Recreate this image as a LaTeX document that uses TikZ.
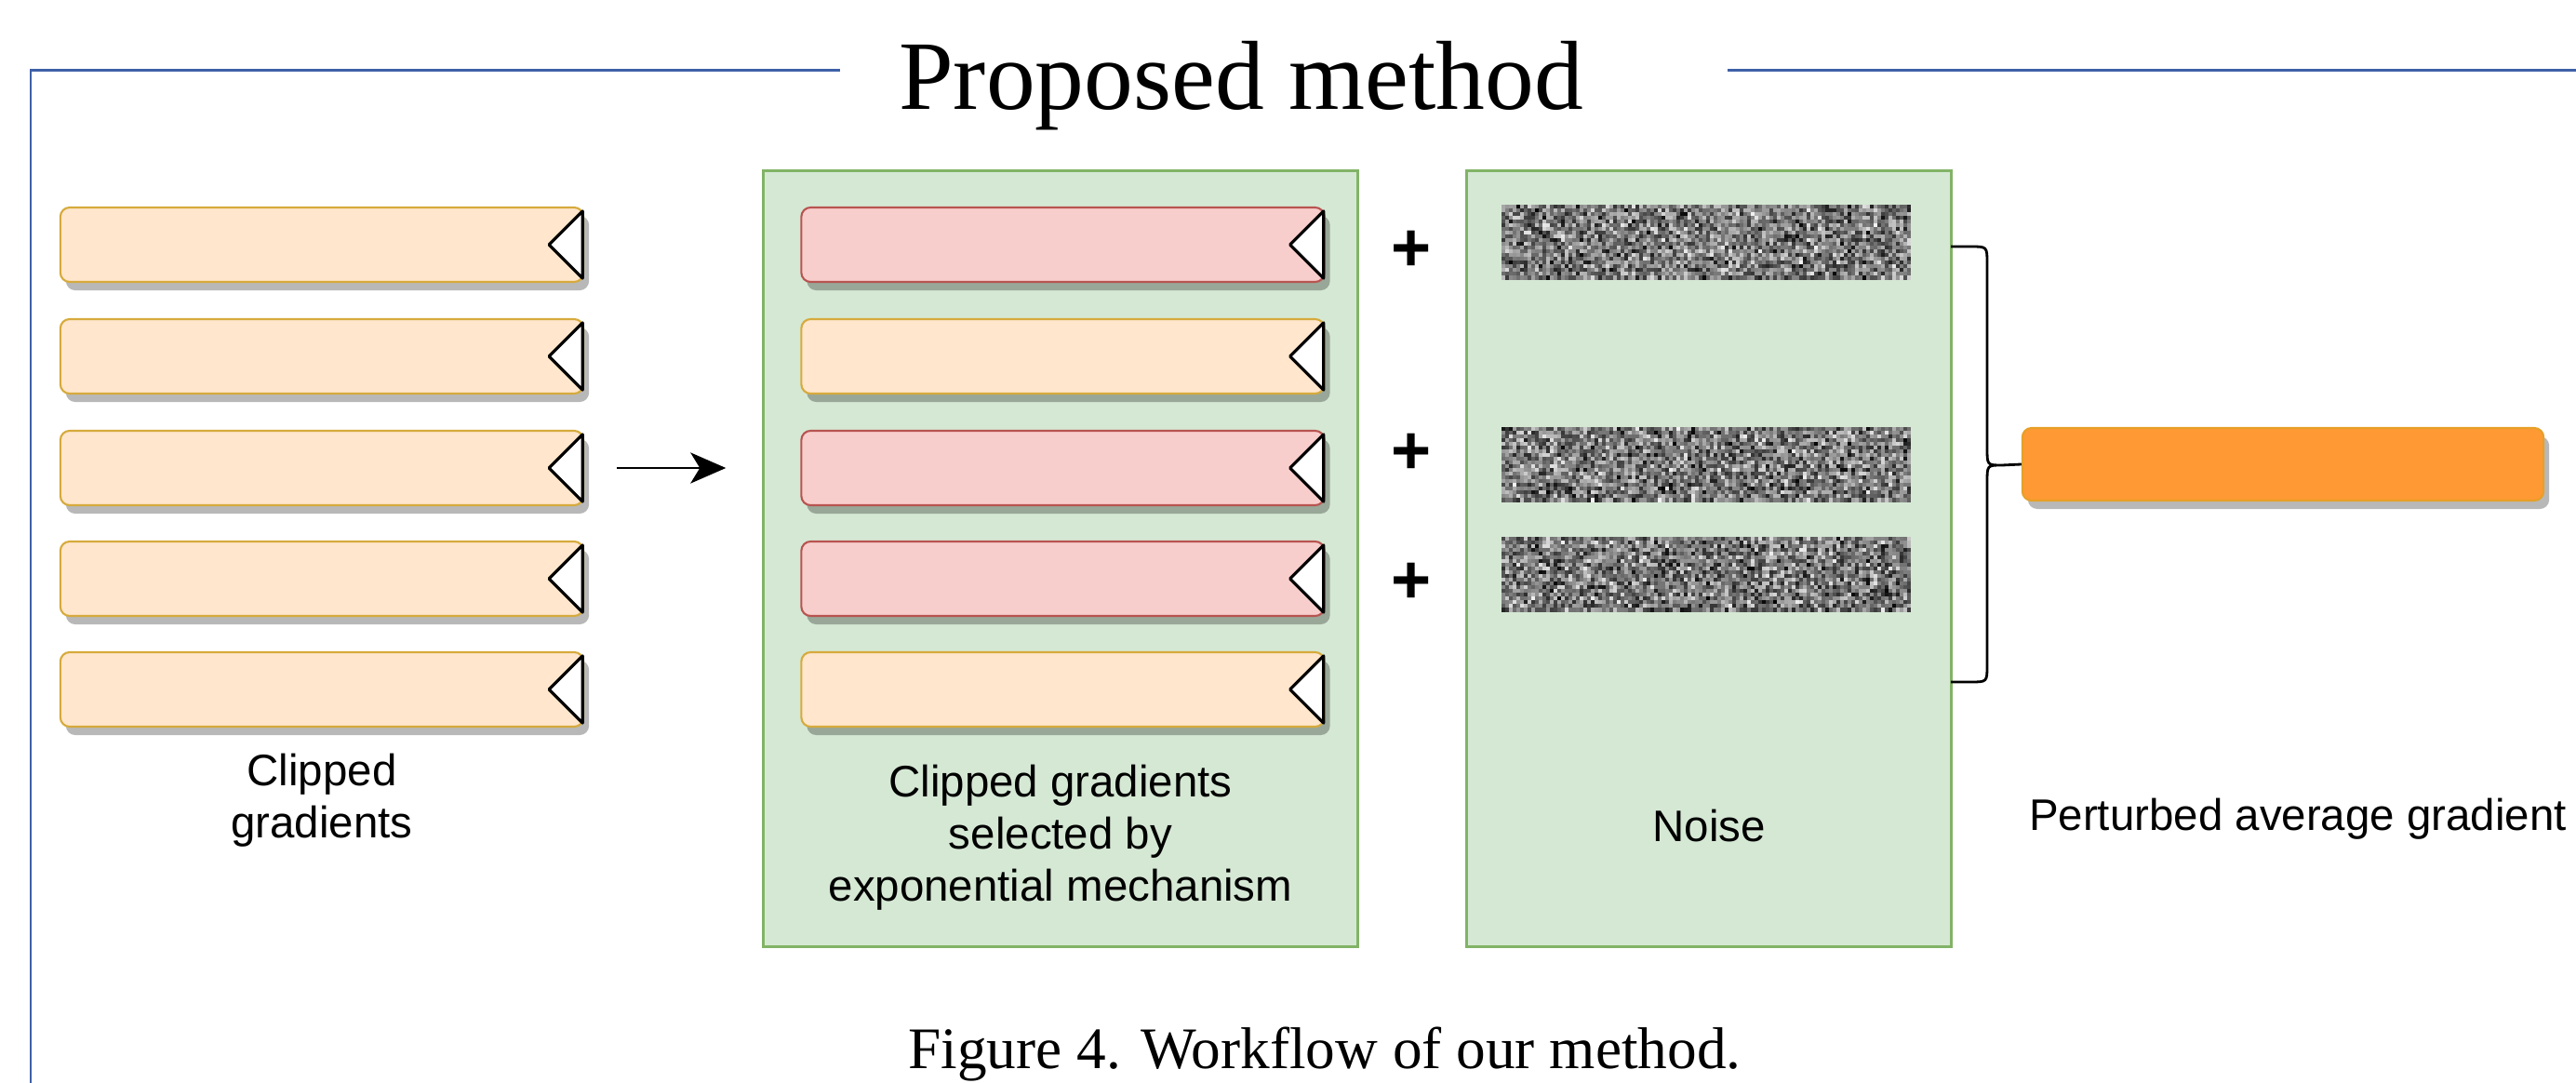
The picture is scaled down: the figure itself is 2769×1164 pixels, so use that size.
\documentclass[tikz,border=0pt]{standalone}
\usepackage{fontspec}
\setmainfont{Liberation Serif}
\setsansfont{Liberation Sans}
\usetikzlibrary{arrows.meta,shadows,calc}

\definecolor{framecol}{RGB}{62,96,168}
\definecolor{peachfill}{RGB}{255,230,204}
\definecolor{peachline}{RGB}{214,170,60}
\definecolor{rosefill}{RGB}{248,206,204}
\definecolor{roseline}{RGB}{184,84,80}
\definecolor{panelfill}{RGB}{213,232,212}
\definecolor{panelline}{RGB}{130,179,102}
\definecolor{avgfill}{RGB}{255,153,51}
\definecolor{avgline}{RGB}{230,160,40}

\tikzset{
  gradbar/.style={rounded corners=0.1cm, minimum width=5.62cm, minimum height=0.8cm,
    inner sep=0pt, line width=0.6pt,
    drop shadow={shadow xshift=0.06cm, shadow yshift=-0.09cm, fill=black, opacity=0.28}},
  peachbar/.style={gradbar, fill=peachfill, draw=peachline},
  rosebar/.style={gradbar, fill=rosefill, draw=roseline},
  panel/.style={fill=panelfill, draw=panelline, line width=0.85pt, minimum height=8.33cm, inner sep=0pt},
  noisebox/.style={minimum width=4.4cm, minimum height=0.8cm, inner sep=0pt},
  label/.style={font=\sffamily\fontsize{13.5}{16}\selectfont, align=center},
  plussign/.style={font=\sffamily\bfseries\fontsize{21}{24}\selectfont, inner sep=0pt},
  flow/.style={line width=0.85pt, -{Stealth[length=0.38cm, width=0.33cm, inset=0.1cm]}},
}

% white notch at the right end of a gradient bar
\newcommand\barnotch[1]{%
  \draw[fill=white, line width=0.9pt, line join=round]
    ([xshift=-0.02cm, yshift=-0.05cm]#1.north east) --
    ([xshift=-0.38cm]#1.east) --
    ([xshift=-0.02cm, yshift=0.05cm]#1.south east) -- cycle;}

% random grey speckle texture filling a noise box
\newcommand\noisecells[1]{%
  \begin{scope}[shift={(#1.north west)}]
    \foreach \i in {0,...,109}{
      \foreach \j in {0,...,19}{
        \pgfmathrandominteger{\ga}{5}{100}%
        \pgfmathrandominteger{\gb}{5}{100}%
        \pgfmathtruncatemacro{\g}{(\ga+\gb)/2}%
        \fill[black!\g] (\i*4,\j*4) rectangle +(4.3,4.3);
      }
    }
  \end{scope}}

\begin{document}
\begin{tikzpicture}[x=0.01cm, y=-0.01cm]
\useasboundingbox (0,0) rectangle (2769,1164);
\pgfmathsetseed{2718}

% frame and heading
\node[font=\fontsize{30}{36}\selectfont, anchor=base, inner sep=0pt] (title) at (1334,118) {Proposed method};
\draw[framecol, line width=0.85pt] (903,76) -- (33,76) -- (33,1164);
\draw[framecol, line width=0.85pt] (1857,76) -- (2769,76);

% panels
\node[panel, minimum width=6.38cm] (mid) at (1140,600.5) {};
\node[panel, minimum width=5.20cm] (noise) at (1837,600.5) {};

% clipped gradients
\node[peachbar] (l1) at (346,263) {};
\node[peachbar] (l2) at (346,383) {};
\node[peachbar] (l3) at (346,503) {};
\node[peachbar] (l4) at (346,622) {};
\node[peachbar] (l5) at (346,741) {};
\foreach \n in {l1,l2,l3,l4,l5} {\barnotch{\n}}
\node[label] (lcap) at (346,860) {Clipped\\gradients};

% selected gradients
\node[rosebar]  (m1) at (1142.5,263) {};
\node[peachbar] (m2) at (1142.5,383) {};
\node[rosebar]  (m3) at (1142.5,503) {};
\node[rosebar]  (m4) at (1142.5,622) {};
\node[peachbar] (m5) at (1142.5,741) {};
\foreach \n in {m1,m2,m3,m4,m5} {\barnotch{\n}}
\node[label] (mcap) at (1140,900) {Clipped gradients\\selected by\\exponential mechanism};

\draw[flow, shorten <=0.35cm, shorten >=0.39cm] (l3.east) -- (l3.east -| mid.west);

% plus signs
\node[plussign] (p1) at (1517,270) {+};
\node[plussign] (p2) at (1517,488) {+};
\node[plussign] (p3) at (1517,627) {+};

% noise strips
\node[noisebox] (n1) at (1834.5,261) {};
\node[noisebox] (n2) at (1834.5,500) {};
\node[noisebox] (n3) at (1834.5,618) {};
\noisecells{n1}
\noisecells{n2}
\noisecells{n3}
\node[label] (ncap) at (1837,888) {Noise};

% averaged result
\node[fill=avgfill, draw=avgline, line width=0.6pt, rounded corners=0.1cm,
      minimum width=5.6cm, minimum height=0.78cm, inner sep=0pt,
      drop shadow={shadow xshift=0.06cm, shadow yshift=-0.09cm, fill=black, opacity=0.28}]
      (avg) at (2454,499) {};
\node[label] (acap) at (2470,880) {Perturbed average gradient};

% brace gathering the noisy sums
\coordinate (bracetip) at (2152,500);
\draw[line width=0.8pt] (2097,265) -- (2118,265) .. controls (2136,265) .. (2136,283)
  -- (2136,482) .. controls (2136,500) .. (bracetip)
  .. controls (2136,500) .. (2136,518) -- (2136,715)
  .. controls (2136,733) .. (2118,733) -- (2097,733);
\draw[line width=0.8pt] (bracetip) -- (avg.west);

% caption
\node[font=\fontsize{18}{22}\selectfont, anchor=base, inner sep=0pt] (caption) at (1424,1148) {Figure 4. Workflow of our method.};
\end{tikzpicture}
\end{document}
